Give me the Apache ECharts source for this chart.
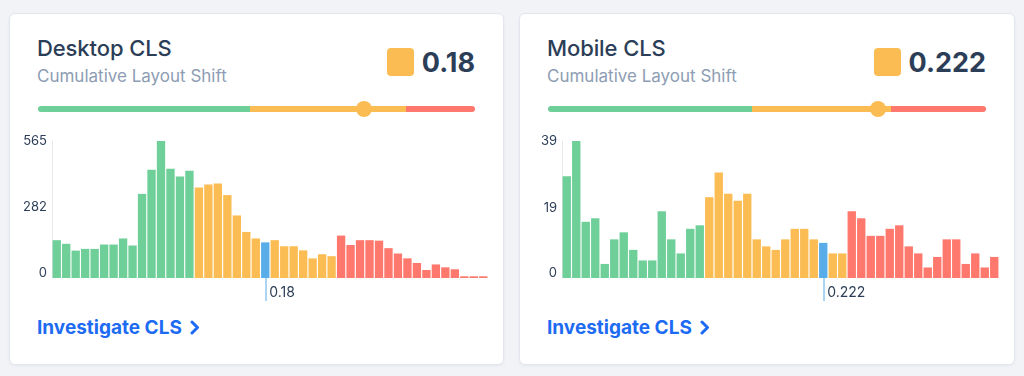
<!DOCTYPE html>
<html>
<head>
<meta charset="utf-8">
<script src="https://cdn.jsdelivr.net/npm/echarts@6/dist/echarts.min.js"></script>
<style>
  html, body { margin: 0; padding: 0; }
  body { width: 1024px; height: 376px; background: #f1f3f7; position: relative; overflow: hidden;
         font-family: "Inter", "Lato", sans-serif; }
  .card { position: absolute; top: 13px; height: 350px; background: #fff; border: 1px solid #e3e7ed;
          border-radius: 6px; box-shadow: 0 1px 3px rgba(30,50,80,0.06); }
  .title { position: absolute; left: 27px; top: 21px; font-size: 22px; font-weight: 500; color: #2c3e57; letter-spacing: -0.1px; }
  .sub { position: absolute; left: 27px; top: 52px; font-size: 17px; color: #8d9db3; }
  .score { position: absolute; top: 34px; right: 28px; height: 28px; display: flex; align-items: center; }
  .score .box { width: 27px; height: 28px; border-radius: 4px; background: #fbbd53; margin-right: 8px; }
  .score .num { font-size: 27px; font-weight: 700; color: #2c3e57; }
  .track { position: absolute; top: 92px; height: 6px; border-radius: 3px; overflow: hidden; display: flex; }
  .track div { height: 6px; }
  .knob { position: absolute; top: 87px; width: 16px; height: 16px; border-radius: 8px; background: #fbbd53; margin-left: -8px; }
  .link { position: absolute; left: 27px; top: 302px; font-size: 19px; font-weight: 700; color: #1c6bf2; display: flex; align-items: center; }
  .link svg { margin-left: 8px; }
  .chart { position: absolute; top: 107px; width: 493px; height: 200px; }
</style>
</head>
<body>
<div id="root"></div>
<script>
// bin counts
const desktopCounts = [156, 141, 113, 120, 120, 138, 138, 163, 134, 347, 446, 565, 451, 419, 442,
  373, 386, 390, 342, 258, 190, 163, 147, 156, 131, 131, 114, 81, 98, 90,
  175, 136, 156, 156, 154, 123, 101, 81, 62, 33, 56, 44, 36, 7, 7, 7];
const mobileCounts = [29, 39, 16, 17, 4, 11, 13, 8, 5, 5, 19, 11, 7, 14, 15,
  23, 30, 24, 22, 24, 11, 9, 8, 11, 14, 14, 11, 10, 7, 7,
  19, 17, 12, 12, 14, 15, 9, 7, 3, 6, 11, 11, 4, 7, 3, 6];
const desktopTicks = [0, 282, 565];
const mobileTicks = [0, 19, 39];
// first orange bin, first red bin
const zoneStarts = [15, 30];
const desktopMark = 22;
const mobileMark = 27;
const desktopScore = "0.18";
const mobileScore = "0.222";
// slider: zone split points and knob, as fractions of the track
const desktopSlider = [0.485, 0.843, 0.747];
const mobileSlider = [0.466, 0.783, 0.754];

const GREEN = "#6ecf98", ORANGE = "#fbbd53", RED = "#ff786d", BLUE = "#58ade8";

const cards = [
  { title: "Desktop CLS", score: desktopScore, counts: desktopCounts, ticks: desktopTicks, mark: desktopMark,
    slider: desktopSlider, left: 9, width: 493, trackLeft: 28, trackWidth: 437, gridLeft: 42, gridWidth: 436 },
  { title: "Mobile CLS", score: mobileScore, counts: mobileCounts, ticks: mobileTicks, mark: mobileMark,
    slider: mobileSlider, left: 519, width: 494, trackLeft: 28, trackWidth: 438, gridLeft: 42, gridWidth: 437 }
];

const root = document.getElementById("root");

cards.forEach((c, ci) => {
  const el = document.createElement("div");
  el.className = "card";
  el.style.left = c.left + "px";
  el.style.width = c.width + "px";
  const g = c.slider[0] * 100, o = c.slider[1] * 100;
  el.innerHTML =
    '<div class="title">' + c.title + '</div>' +
    '<div class="sub">Cumulative Layout Shift</div>' +
    '<div class="score"><div class="box"></div><div class="num">' + c.score + '</div></div>' +
    '<div class="track" style="left:' + c.trackLeft + 'px;width:' + c.trackWidth + 'px">' +
      '<div style="width:' + g + '%;background:' + GREEN + '"></div>' +
      '<div style="width:' + (o - g) + '%;background:' + ORANGE + '"></div>' +
      '<div style="width:' + (100 - o) + '%;background:' + RED + '"></div></div>' +
    '<div class="knob" style="left:' + (c.trackLeft + c.trackWidth * c.slider[2]) + 'px"></div>' +
    '<div class="link">Investigate CLS<svg width="10" height="15" viewBox="0 0 10 15">' +
      '<polyline points="2,2 7.5,7.5 2,13" fill="none" stroke="#1c6bf2" stroke-width="3" stroke-linecap="round" stroke-linejoin="round"/></svg></div>' +
    '<div class="chart" id="chart' + ci + '"></div>';
  root.appendChild(el);

  const chart = echarts.init(document.getElementById("chart" + ci));
  const cats = c.counts.map((v, i) => String(i));
  const max = c.ticks[c.ticks.length - 1];

  const option = {
    animation: false,
    grid: { left: c.gridLeft, top: 20, width: c.gridWidth, height: 137 },
    xAxis: {
      type: "category",
      data: cats,
      axisLine: { show: false },
      axisTick: {
        show: true,
        alignWithLabel: true,
        interval: (i) => i === c.mark,
        length: 23,
        lineStyle: { color: "#8cc6ef", width: 1.5 }
      },
      axisLabel: {
        interval: (i) => i === c.mark,
        formatter: () => c.score,
        align: "left",
        padding: [0, 0, 0, 4],
        margin: 8,
        fontSize: 14,
        color: "#2c3e57",
        fontFamily: "Inter"
      }
    },
    yAxis: {
      type: "value",
      min: 0,
      max: max,
      splitLine: { show: false },
      axisLine: { show: true, lineStyle: { color: "#e6e8ec" } },
      axisTick: { show: false },
      axisLabel: {
        customValues: c.ticks,
        margin: 5,
        fontSize: 13,
        color: "#2c3e57",
        fontFamily: "Inter",
        // lower labels sit a little above their value in the original
        formatter: (v) => v === c.ticks[0] ? "{lo|" + v + "}" : v === c.ticks[1] ? "{mid|" + v + "}" : String(v),
        rich: {
          lo: { fontSize: 13, color: "#2c3e57", fontFamily: "Inter", padding: [0, 0, 10, 0] },
          mid: { fontSize: 13, color: "#2c3e57", fontFamily: "Inter", padding: [0, 0, 6, 0] }
        }
      }
    },
    series: [{
      type: "bar",
      barCategoryGap: "12%",
      data: c.counts.map((v, i) => ({
        value: v,
        itemStyle: {
          color: i === c.mark ? BLUE : i < zoneStarts[0] ? GREEN : i < zoneStarts[1] ? ORANGE : RED
        }
      }))
    }]
  };
  chart.setOption(option);
});
</script>
</body>
</html>
